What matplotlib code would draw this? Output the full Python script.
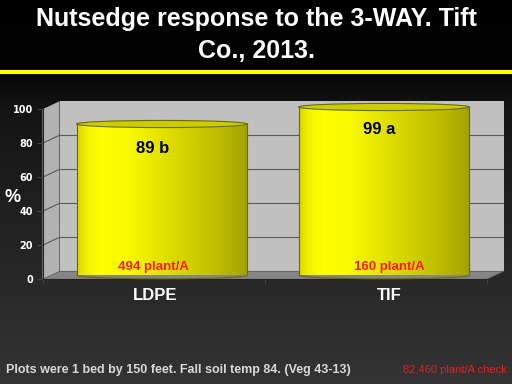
import numpy as np
import matplotlib
matplotlib.use("Agg")
import matplotlib.pyplot as plt
from matplotlib.patches import Ellipse, Polygon, Arc
from matplotlib.colors import LinearSegmentedColormap
from matplotlib.transforms import IdentityTransform

categories = ["LDPE", "TIF"]
values = [89, 99]
value_labels = ["89 b", "99 a"]
density_labels = ["494 plant/A", "160 plant/A"]
yticks = [0, 20, 40, 60, 80, 100]
title = "Nutsedge response to the 3-WAY. Tift\nCo., 2013."
footnote = "Plots were 1 bed by 150 feet. Fall soil temp 84. (Veg 43-13)"
check_note = "82,460 plant/A check"

plt.rcParams['font.family'] = ['Liberation Sans', 'DejaVu Sans']

W, H = 512, 384
fig = plt.figure(figsize=(W / 100, H / 100), dpi=100)


def rect_px(left, top, right, bottom):
    return [left / W, 1 - bottom / H, (right - left) / W, (bottom - top) / H]


# ---- background gradient ----
bg = fig.add_axes([0, 0, 1, 1], zorder=0)
bg_cmap = LinearSegmentedColormap.from_list(
    'bg', [(0, '#000000'), (0.18, '#030303'), (0.28, '#141414'), (1, '#343434')])
bg.imshow(np.linspace(0, 1, 256)[:, None], cmap=bg_cmap, aspect='auto',
          extent=[0, 1, 0, 1], origin='upper')
bg.axhline(1 - 71.7 / H, color='#ffff00', lw=3)
bg.set_xlim(0, 1)
bg.set_ylim(0, 1)
bg.set_axis_off()

fig.text(0.5, 1 - 35 / H, title, ha='center', va='center', color='white',
         fontsize=18, fontweight='bold', linespacing=1.38)

# geometry of the pseudo 3D box
FL, FT, FR, FB = 42.5, 109.3, 486.5, 279.3
DX, DY = 17, 8
XLIM = (-0.5, 1.5)
YLIM = (0, 100)

# back wall
axb = fig.add_axes(rect_px(FL + DX, FT - DY, FR + DX, FB - DY), zorder=1)
axb.set_facecolor('#c0c0c0')
axb.set_xlim(*XLIM)
axb.set_ylim(*YLIM)
axb.set_xticks([])
axb.set_yticks([])
for s in axb.spines.values():
    s.set_visible(False)
for t in yticks[1:-1]:
    axb.axhline(t, color='#5a5a5a', lw=0.8)

# front axes
ax = fig.add_axes(rect_px(FL, FT, FR, FB), zorder=2)
ax.set_facecolor('none')
ax.set_xlim(*XLIM)
ax.set_ylim(*YLIM)
for s in ['top', 'right']:
    ax.spines[s].set_visible(False)
ax.spines['left'].set_color('#222222')
ax.spines['bottom'].set_color('#222222')
ax.set_yticks(yticks)
ax.set_yticklabels([str(t) for t in yticks], color='white', fontsize=7,
                   fontweight='bold', family='DejaVu Sans')
ax.tick_params(axis='y', length=4, color='#444444', pad=3)
ax.set_xticks([XLIM[0], 0.5, XLIM[1]])
ax.set_xticklabels([])
ax.tick_params(axis='x', length=3, color='#444444')


def disp(axx, x, y):
    return axx.transData.transform((x, y))


# side wall and floor in display coords
side = Polygon([disp(ax, XLIM[0], 0), disp(ax, XLIM[0], 100),
                disp(axb, XLIM[0], 100), disp(axb, XLIM[0], 0)],
               closed=True, facecolor='#b2b2b2', edgecolor='none',
               transform=IdentityTransform(), clip_on=False, zorder=0)
ax.add_patch(side)
for t in yticks[1:-1]:
    p0 = disp(ax, XLIM[0], t)
    p1 = disp(axb, XLIM[0], t)
    ax.plot([p0[0], p1[0]], [p0[1], p1[1]], color='#5a5a5a', lw=0.8,
            transform=IdentityTransform(), clip_on=False, zorder=0.5)
floor = Polygon([disp(ax, XLIM[0], 0), disp(ax, XLIM[1], 0),
                 disp(axb, XLIM[1], 0), disp(axb, XLIM[0], 0)],
                closed=True, facecolor='#858585', edgecolor='#666666', lw=0.5,
                transform=IdentityTransform(), clip_on=False, zorder=0)
ax.add_patch(floor)

# cylinders
axc = fig.add_axes(rect_px(FL + DX / 2, FT - DY / 2, FR + DX / 2, FB - DY / 2), zorder=3)
axc.set_facecolor('none')
axc.set_xlim(*XLIM)
axc.set_ylim(*YLIM)
axc.set_axis_off()

cyl_cmap = LinearSegmentedColormap.from_list(
    'cyl', [(0, '#d6d600'), (0.06, '#f4f400'), (0.15, '#ffff00'), (0.3, '#fafa00'),
            (0.55, '#dcdc00'), (0.8, '#c0c000'), (1, '#a2a200')])
grad_h = np.linspace(0, 1, 256)[None, :]
BW = 0.77
EH = 4.2
xs = np.arange(len(categories))
bars = axc.bar(xs, values, width=BW, color='none', edgecolor='none')
for x, v, b in zip(xs, values, bars):
    im = axc.imshow(grad_h, cmap=cyl_cmap, aspect='auto',
                    extent=[x - BW / 2, x + BW / 2, -EH, v], zorder=2)
    im.set_clip_path(b)
    be = Ellipse((x, 0), BW, EH, facecolor='none', edgecolor='none', clip_on=False)
    axc.add_patch(be)
    im2 = axc.imshow(grad_h, cmap=cyl_cmap, aspect='auto',
                     extent=[x - BW / 2, x + BW / 2, -EH, EH], zorder=2)
    im2.set_clip_path(be)
    axc.add_patch(Arc((x, 0), BW, EH, theta1=180, theta2=360, edgecolor='#6b6b00',
                      lw=0.8, zorder=3, clip_on=False))
    axc.plot([x - BW / 2, x - BW / 2], [0, v], color='#6b6b00', lw=0.8, zorder=3)
    axc.plot([x + BW / 2, x + BW / 2], [0, v], color='#6b6b00', lw=0.8, zorder=3)
    axc.add_patch(Ellipse((x, v), BW, EH, facecolor='#cccc00', edgecolor='#6b6b00',
                          lw=0.8, zorder=4, clip_on=False))

# labels
val_dx = [-9, -5]
val_dy = [-25, -23]
dens_dx = [-9, 5]
cat_dx = [2, 14]
for x, v, lab, dl, a, ady, b, c, cat in zip(xs, values, value_labels, density_labels,
                                             val_dx, val_dy, dens_dx, cat_dx, categories):
    axc.annotate(lab, (x, v), xytext=(a, ady), textcoords='offset pixels',
                 ha='center', va='center', fontsize=12, fontweight='bold',
                 color='black', zorder=10, annotation_clip=False)
    axc.annotate(dl, (x, 0), xytext=(b, 8), textcoords='offset pixels',
                 ha='center', va='center', fontsize=9.5, fontweight='bold',
                 color='#ff1a1a', zorder=10, annotation_clip=False)
    ax.annotate(cat, (x, 0), xytext=(c, -16), textcoords='offset pixels',
                ha='center', va='center', fontsize=12, fontweight='bold',
                color='white', annotation_clip=False)

fig.text(13 / W, 1 - 197 / H, '%', ha='center', va='center', color='white',
         fontsize=13, fontweight='bold')
fig.text(6 / W, 1 - 370 / H, footnote, ha='left', va='center', color='#d8d8d8',
         fontsize=9, fontweight='bold')
fig.text(507 / W, 1 - 370 / H, check_note, ha='right', va='center', color='#dd2222',
         fontsize=8)

fig.savefig('out.png', dpi=100, facecolor='black')
